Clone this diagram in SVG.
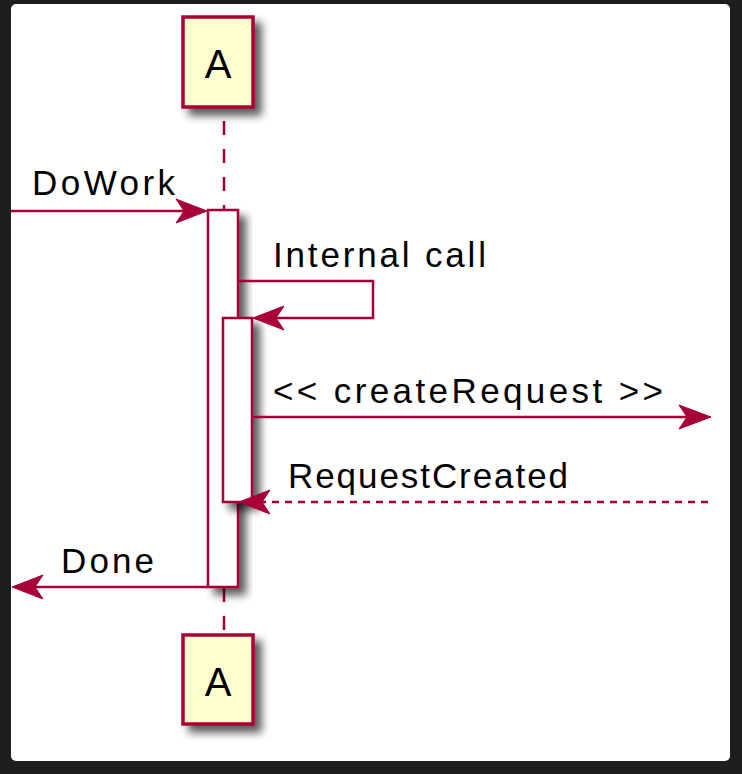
<svg xmlns="http://www.w3.org/2000/svg" width="742" height="774" viewBox="0 0 742 774">
<defs>
<filter id="sh" x="-50%" y="-50%" width="200%" height="200%">
<feGaussianBlur in="SourceAlpha" stdDeviation="4.5"/>
<feOffset dx="7" dy="7" result="b"/>
<feComponentTransfer in="b" result="c"><feFuncA type="linear" slope="0.65"/></feComponentTransfer>
<feMerge><feMergeNode in="c"/><feMergeNode in="SourceGraphic"/></feMerge>
</filter>
<style>
.part{fill:#FEFECE;stroke:#A80036;stroke-width:3.5}
.act{fill:#FFFFFF;stroke:#A80036;stroke-width:2.5}
.ln{fill:none;stroke:#A80036;stroke-width:2.5}
.dash{stroke-dasharray:7,6}
.life{fill:none;stroke:#A80036;stroke-width:2.5;stroke-dasharray:14,14}
.head{fill:#A80036;stroke:#A80036;stroke-width:1}
.msg{font-family:"Liberation Sans",Arial,sans-serif;font-size:35px;fill:#000}
.pt{font-family:"Liberation Sans",Arial,sans-serif;font-size:40px;fill:#000;text-anchor:middle}
</style>
</defs>
<rect x="0" y="0" width="742" height="774" fill="#1e1e1e"/>
<rect x="11" y="4" width="719" height="757" rx="5" fill="#FFFFFF"/>
<g id="lifeline">
<line class="life" x1="224" y1="121" x2="224" y2="210"/>
<line class="life" x1="224" y1="588" x2="224" y2="634" stroke-dasharray="8,17"/>
</g>
<g id="participant-top">
<rect class="part" x="183" y="17" width="70" height="90" filter="url(#sh)"/>
<text class="pt" x="218" y="78">A</text>
</g>
<g id="participant-bottom">
<rect class="part" x="183" y="635" width="70" height="89" filter="url(#sh)"/>
<text class="pt" x="218" y="696">A</text>
</g>
<g id="activation-outer">
<rect class="act" x="208" y="210" width="30" height="377" filter="url(#sh)"/>
</g>
<g id="activation-inner">
<rect class="act" x="223" y="318" width="29" height="184" filter="url(#sh)"/>
</g>
<g id="connectors">
<g id="msg-dowork">
<line class="ln" x1="11" y1="211" x2="200" y2="211"/>
<polygon class="head" points="207,211 176,199 184,211 176,223"/>
<text class="msg" x="32" y="195" textLength="143" lengthAdjust="spacing">DoWork</text>
</g>
<g id="msg-internal">
<polyline class="ln" points="238,281 373,281 373,318 260,318"/>
<polygon class="head" points="253,318 284,306 276,318 284,330"/>
<text class="msg" x="273" y="267" textLength="213" lengthAdjust="spacing">Internal call</text>
</g>
<g id="msg-create">
<line class="ln" x1="252" y1="417" x2="704" y2="417"/>
<polygon class="head" points="711,417 679,405 687,417 679,429"/>
<text class="msg" x="273" y="403" textLength="390" lengthAdjust="spacing">&lt;&lt; createRequest &gt;&gt;</text>
</g>
<g id="msg-created">
<line class="ln dash" x1="708" y1="502" x2="262" y2="502"/>
<polygon class="head" points="239,502 270,490 262,502 270,514"/>
<text class="msg" x="288" y="488" textLength="280" lengthAdjust="spacing">RequestCreated</text>
</g>
<g id="msg-done">
<line class="ln" x1="208" y1="587" x2="18" y2="587"/>
<polygon class="head" points="12,587 43,575 35,587 43,599"/>
<text class="msg" x="61" y="573" textLength="93" lengthAdjust="spacing">Done</text>
</g>
</g>
</svg>
